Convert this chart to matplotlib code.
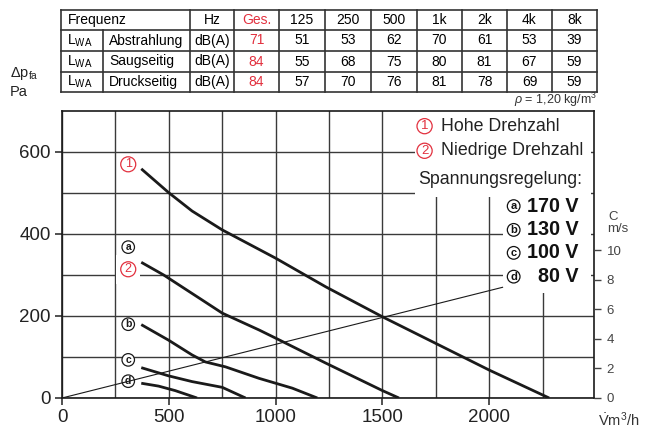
import numpy as np
import matplotlib.pyplot as plt
from matplotlib.patches import Rectangle

plt.rcParams['font.family'] = ['Liberation Sans', 'DejaVu Sans']
plt.rcParams['mathtext.fontset'] = 'custom'
plt.rcParams['mathtext.rm'] = 'Liberation Sans'
plt.rcParams['mathtext.it'] = 'Liberation Sans:italic'
plt.rcParams['mathtext.bf'] = 'Liberation Sans:bold'

RED = '#e2303e'

# sound power table
bands = ['125', '250', '500', '1k', '2k', '4k', '8k']
row_names = ['Abstrahlung', 'Saugseitig', 'Druckseitig']
ges = [71, 84, 84]
abstrahlung = [51, 53, 62, 70, 61, 53, 39]
saugseitig = [55, 68, 75, 80, 81, 67, 59]
druckseitig = [57, 70, 76, 81, 78, 69, 59]

# fan curves, volume flow [m3/h] vs pressure [Pa]
flow_1 = [371, 499, 609, 750, 1000, 1235, 1500, 1750, 2000, 2280]
dp_1 = [559, 501, 456, 410, 341, 271, 198, 133, 68, 0]
flow_a = [371, 476, 656, 750, 922, 1000, 1235, 1500, 1577]
dp_a = [331, 300, 239, 207, 166, 146, 85, 18, 0]
flow_b = [371, 499, 609, 671, 765, 922, 1078, 1195]
dp_b = [179, 141, 105, 88, 76, 48, 24, 0]
flow_c = [371, 499, 609, 750, 859]
dp_c = [74, 54, 40, 26, 0]
flow_d = [371, 452, 530, 632]
dp_d = [36, 29, 18, 0]

# outlet velocity line [m/s]
flow_sys = [0, 2062]
vel_sys = [0, 7.5]

fig = plt.figure(figsize=(6.45, 4.32), dpi=100)

# ---- table ----
col_edges = [61, 103, 190, 234, 279, 325, 371, 417, 462, 507, 552, 597]
row_edges = [10, 30, 51, 72, 92]
tab = fig.add_axes([61/645, 1-92/432, 536/645, 82/432])
tab.set_xlim(61, 597)
tab.set_ylim(92, 10)
tab.axis('off')
for y in row_edges:
    tab.plot([61, 597], [y, y], color='#333333', lw=1.2, clip_on=False)
for i, x in enumerate(col_edges):
    y0 = 30 if i == 1 else 10
    tab.plot([x, x], [y0, 92], color='#333333', lw=1.2, clip_on=False)

rc = [(row_edges[i] + row_edges[i+1]) / 2 for i in range(4)]
cc = [(col_edges[i] + col_edges[i+1]) / 2 for i in range(11)]
fs_t = 10
tab.text(68, rc[0], 'Frequenz', ha='left', va='center', fontsize=fs_t)
tab.text(cc[2], rc[0], 'Hz', ha='center', va='center', fontsize=fs_t)
tab.text(cc[3], rc[0], 'Ges.', ha='center', va='center', fontsize=fs_t, color=RED)
for j, b in enumerate(bands):
    tab.text(cc[4+j], rc[0], b, ha='center', va='center', fontsize=fs_t)
for i, (name, tot, vals) in enumerate(zip(row_names, ges, [abstrahlung, saugseitig, druckseitig])):
    y = rc[i+1]
    tab.text(67, y, r'L$_{\mathrm{WA}}$', ha='left', va='center', fontsize=fs_t)
    tab.text(109, y, name, ha='left', va='center', fontsize=fs_t)
    tab.text(cc[2], y, 'dB(A)', ha='center', va='center', fontsize=fs_t)
    tab.text(cc[3], y, str(tot), ha='center', va='center', fontsize=fs_t, color=RED)
    for j, v in enumerate(vals):
        tab.text(cc[4+j], y, str(v), ha='center', va='center', fontsize=fs_t)

fig.text(597/645, 1-100/432, r'$\rho$ = 1,20 kg/m$^3$', ha='right', va='center', fontsize=9, color='#333333')
fig.text(10/645, 1-74/432, r'Δp$_{\mathrm{fa}}$', ha='left', va='center', fontsize=10.5, color='#222222')
fig.text(10/645, 1-92/432, 'Pa', ha='left', va='center', fontsize=10.5, color='#222222')

# ---- chart ----
ax = fig.add_axes([62/645, 1-398/432, (594-62)/645, (398-111)/432])
ax.set_xlim(0, 2490)
ax.set_ylim(0, 700)
ax.set_xticks([0, 500, 1000, 1500, 2000])
ax.set_xticks(np.arange(250, 2400, 500), minor=True)
ax.set_yticks([0, 200, 400, 600])
ax.set_yticks([100, 300, 500], minor=True)
ax.grid(True, which='both', color='#3a3a3a', lw=1.0, zorder=0)
ax.set_axisbelow(True)
ax.tick_params(which='major', direction='out', length=5, width=1.1, labelsize=13.5, pad=3, colors='#222222')
ax.tick_params(which='minor', length=0)
for s in ax.spines.values():
    s.set_linewidth(1.2)
    s.set_color('#1a1a1a')

# legend white area
ax.add_patch(Rectangle((1654, 491), 2475-1654, 700-491, fc='white', ec='none', zorder=2))
ax.add_patch(Rectangle((2062, 256), 2475-2062, 491-256, fc='white', ec='none', zorder=2))

for fx, dy in [(flow_1, dp_1), (flow_a, dp_a), (flow_b, dp_b), (flow_c, dp_c), (flow_d, dp_d)]:
    ax.plot(fx, dy, color='#1a1a1a', lw=2.0, zorder=3, solid_capstyle='butt', solid_joinstyle='round')

ax2 = ax.twinx()
ax2.set_ylim(0, 700/36.0)
ax2.set_yticks([0, 2, 4, 6, 8, 10])
ax2.tick_params(direction='out', length=5, width=1.0, labelsize=9.5, pad=4, colors='#444444')
for s in ax2.spines.values():
    s.set_visible(False)
ax2.plot(flow_sys, vel_sys, color='#1a1a1a', lw=0.8, zorder=3)

fig.text(608/645, 1-217/432, 'C', ha='left', va='center', fontsize=9.5, color='#444444')
fig.text(618/645, 1-229/432, 'm/s', ha='center', va='center', fontsize=9.5, color='#444444')
fig.text(619/645, 1-420/432, r'$\dot{\mathrm{V}}$m$^3$/h', ha='center', va='center', fontsize=10.5, color='#333333')

# curve labels
def circ(a, x, y, t, color, fs, weight, lw=0.9):
    a.text(x, y, t, ha='center', va='center', fontsize=fs, color=color, fontweight=weight, zorder=5,
           bbox=dict(boxstyle='circle,pad=0.12', fc='white', ec=color, lw=lw))

ax.text(310, 314, '2', ha='center', va='center', fontsize=9, color='none', zorder=4,
        bbox=dict(boxstyle='square,pad=0.7', fc='white', ec='none'))
circ(ax, 310, 570, '1', RED, 9, 'normal')
circ(ax, 310, 314, '2', RED, 9, 'normal')
for t, y in zip(['a', 'b', 'c', 'd'], [368, 180, 93, 41]):
    circ(ax, 310, y, t, '#1a1a1a', 7.5, 'bold')

# legend texts
circ(ax, 1697, 663, '1', RED, 9.5, 'normal')
ax.text(1772, 663, 'Hohe Drehzahl', ha='left', va='center', fontsize=12.8, color='#222222', zorder=5)
circ(ax, 1697, 603, '2', RED, 9.5, 'normal')
ax.text(1772, 603, 'Niedrige Drehzahl', ha='left', va='center', fontsize=12.8, color='#222222', zorder=5)
ax.text(1666, 532, 'Spannungsregelung:', ha='left', va='center', fontsize=12.8, color='#222222', zorder=5)
for t, v, y in zip(['a', 'b', 'c', 'd'], ['170 V', '130 V', '100 V', '80 V'], [468, 410, 354, 296]):
    circ(ax, 2114, y, t, '#111111', 8, 'bold')
    ax.text(2416, y, v, ha='right', va='center', fontsize=14.2, fontweight='bold', color='#111111', zorder=5)

fig.savefig('out.png', dpi=100)
